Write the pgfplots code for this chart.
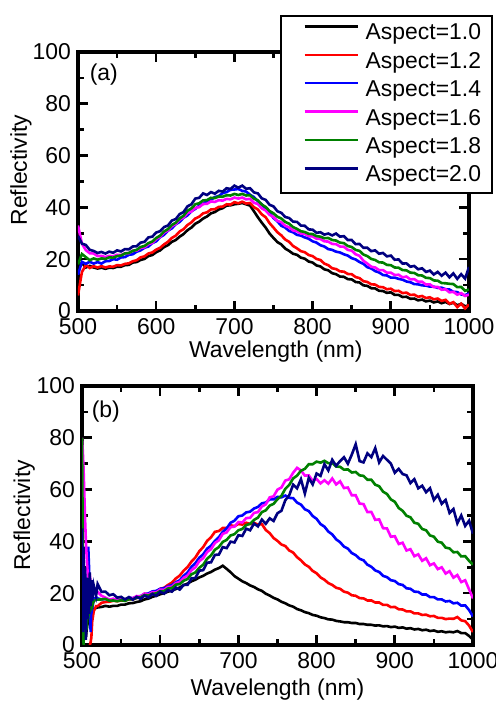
\documentclass[border=0pt]{standalone}
\usepackage{fontspec}
\setmainfont{Liberation Sans}
\usepackage{pgfplots}
\usepackage{pgfplotstable}
\pgfplotsset{compat=1.18}

\definecolor{cnavy}{RGB}{0,0,128}
\definecolor{cgreen}{RGB}{0,128,0}
\definecolor{cmag}{RGB}{255,0,255}
\definecolor{cred}{RGB}{255,0,0}
\definecolor{cblue}{RGB}{0,0,255}

% panel (a): aspect 1.0 1.2 1.4 1.6 1.8 2.0
\pgfplotstableread{
wl k r b m g n
500 17.5 6 14 33 18 29
505 18.5 15 19 26 22 26
510 16.8 17.8 18.2 23.5 20.8 25.5
515 17.4 16.6 19 22.3 19.6 23.6
520 16.8 17.3 18.3 22.2 20.3 23.2
525 16.4 16.8 18.9 21.2 19.8 22.4
530 16.7 17.3 18.3 21.3 20.3 22.8
535 16.3 16.8 19.2 20.8 20.1 22.2
540 16.7 17.2 19.3 21.3 20.7 22.9
545 16.6 17.1 20 21.1 20.6 22.5
550 17.1 17.7 19.8 21.7 21.2 23.4
555 17.1 17.6 20.7 21.6 21.4 23
560 17.7 18.2 20.8 22.3 22.2 23.9
565 17.8 18.4 21.7 22.3 22.4 23.8
570 18.7 19.2 21.9 23.3 23.2 24.9
575 18.9 19.6 22.9 23.3 23.6 25
580 19.7 20.7 23.4 24.3 24.7 26.4
585 20.1 21.1 24.4 24.6 25.1 26.7
590 21.2 22.2 24.9 25.8 26.2 28.4
595 21.6 22.6 26.2 26.3 26.8 28.7
600 22.7 23.7 26.9 27.8 28.2 30.3
605 23.4 24.4 28.5 28.6 29.1 30.8
610 24.7 25.7 29.4 30.3 30.7 32.4
615 25.4 26.7 31 31.1 31.6 33
620 26.7 28.2 31.9 32.8 33.2 34.9
625 27.4 29.1 33.5 33.6 34.1 35.5
630 28.7 30.7 34.4 35.3 35.7 37.4
635 29.7 31.6 36 36.1 36.8 38.2
640 31.2 33.2 36.9 37.8 38.7 40.4
645 32.2 34.2 38.5 38.4 39.6 41.2
650 33.7 35.7 39.4 39.8 41.2 43.4
655 34.5 36.4 40.7 40.1 41.6 43.7
660 35.7 37.7 41.4 41.3 42.7 45.4
665 36.5 38.1 42.5 41.4 42.8 44.8
670 37.7 39.2 42.9 42.3 43.7 45.9
675 38.2 39.3 44 42.1 43.6 45.3
680 39.2 40.2 44.4 42.8 44.2 46.4
685 39.7 40.3 45.5 42.6 44.1 46.1
690 40.7 41.2 45.9 43.3 44.7 47.4
695 40.8 41.1 46.8 43.1 44.6 47.1
700 41.2 42 46.9 43.8 45.2 48.4
705 41.4 41.6 47.1 43.4 44.8 47.6
710 41.7 42.2 46.4 43.8 45.2 48.4
715 41.2 41.5 46.1 43.1 44.6 47.2
720 40.7 41.7 44.9 43.3 44.7 47.4
725 38.5 40.1 44 41.8 43.4 45.8
730 36.2 39.2 42.4 41.3 42.7 45.4
735 34.1 37.3 41.2 39.6 41.1 43.5
740 32.2 36.2 39.4 38.8 40.2 42.9
745 29.9 33.9 38 37.1 38.6 41
750 28.2 32.2 35.9 36.3 37.7 40.4
755 26.6 30.4 34.6 34.8 36.4 38.5
760 25.7 29.2 32.9 34.3 35.7 37.9
765 24.1 27.6 32.2 32.9 34.4 36.3
770 23.2 26.7 30.9 32.3 33.7 35.9
775 22.1 25.1 30.4 31.1 32.4 34.5
780 21.7 24.2 29.4 30.8 31.7 34.4
785 20.6 23.1 29.1 29.9 30.8 33
790 20.2 22.7 28.4 29.8 30.5 32.9
795 19.1 21.6 27.9 28.9 29.8 31.5
800 18.7 21.2 26.9 28.8 29.7 31.4
805 17.6 20.1 26.4 27.9 28.9 30.2
810 17.2 19.7 25.4 27.8 28.7 30.4
815 16.1 18.3 24.9 26.9 28.1 29.5
820 15.7 17.7 23.9 26.8 28.2 29.9
825 14.6 16.5 23.6 25.9 27.4 29.2
830 14.2 16.2 22.9 25.8 27.2 29.9
835 13.3 15.3 22.6 24.9 26.4 28.7
840 13.2 15.2 21.9 24.8 26.2 28.9
845 12.3 14.3 21.4 23.6 25.1 27.4
850 12.2 14.2 20.4 23.3 24.7 27.4
855 11.2 13.1 19.9 21.9 23.6 25.8
860 11 12.7 18.9 21.3 23.2 25.9
865 9.9 11.5 18.2 19.4 21.8 24.4
870 9.7 11.2 16.9 18.3 21.2 24.4
875 8.8 10.3 16.4 17.1 20.1 23.1
880 8.7 10.2 15.4 16.8 19.7 23.4
885 7.8 9.3 14.9 15.8 18.8 22.1
890 7.7 9.2 13.9 15.8 18.7 22.4
895 7 8.4 13.7 14.8 17.8 21.1
900 7.2 8.6 12.9 14.8 17.7 21.4
905 6.2 7.7 12.9 13.9 16.8 19.8
910 6.2 7.8 12.4 14 16.7 19.9
915 5.4 6.9 12.1 13 15.8 18.3
920 5.5 7.1 11.4 13.3 15.7 18.4
925 4.7 6.2 11.1 12.2 14.8 17.1
930 4.8 6.3 10.4 12.3 14.7 17.4
935 4.1 5.5 10.3 11.3 13.8 16.1
940 4.4 5.8 9.9 11.3 13.7 16.5
945 3.7 5 9.8 10.2 12.8 15.1
950 4 5.3 9.4 10.3 12.7 15.6
955 3.3 4.5 9.4 9.2 11.8 14.1
960 3.7 4.8 8.9 9.3 11.7 15.1
965 3 3.9 9 8.2 10.8 13.6
970 3.5 4.3 8.4 8.4 10.7 14.8
975 2.7 2.8 8.3 7.2 10.5 13
980 3.2 3.4 7.4 7.4 10.4 14.5
985 2.2 1.5 7.3 6.3 9.2 12.4
990 2.8 2.8 6.4 6.9 9.3 14.2
995 1.8 1 6.1 5.8 7.8 12.5
1000 2.2 2.5 6.8 6.3 8.3 17
}\taba

% panel (b)
\pgfplotstableread{
wl k r b m g n
500 nan nan 20 80 80 45
501 nan nan 5 75 40 5
502 nan nan 15 68 0 38
503 nan nan 2 58 10 8
504 nan nan 18 48 3 30
505 3 nan 8 40 12 2
506 6 nan 25 34 6 26
507 8 nan 10 29 14 10
508 11 nan 38 25 10 24
509 12 nan 30 23 15 12
510 13 0 20 22 14 28
511 12.5 1 5 24 16 15
512 13.5 3 15 21 17 25
513 13 9 14 23 15 17
515 14 13 17.5 22 17 23
518 14.3 15 18.5 21 17.5 19
520 14.5 15 18 20.5 17.5 23.5
525 14.7 16.3 17.6 19 17.6 20.5
530 15.1 16.6 17.8 18.3 17.8 20.6
535 14.8 16.7 17.3 17.5 17.1 19.2
540 15.1 17.1 17.7 17.9 17.2 19.6
545 15.1 16.9 17.3 17.2 16.9 18.3
550 15.6 17.2 17.7 17.9 17.3 18.6
555 15.6 17.2 17.6 17.5 17 17.6
560 16.1 17.6 18.2 18.3 17.7 18.5
565 16.2 17.6 18.1 18 17.6 17.5
570 16.6 18.2 18.7 18.9 18.2 18.6
575 16.9 18.4 18.9 18.7 18.4 17.8
580 17.6 19.2 19.7 19.9 19.3 19.1
585 17.9 19.4 19.9 19.5 19.1 18.3
590 18.6 20.2 20.7 20.4 19.8 19.7
595 19 20.6 20.9 20.3 19.9 19
600 19.6 21.7 21.7 21.4 20.8 20.6
605 20 22.1 21.9 21.3 20.8 19.8
610 20.6 23.2 22.7 22.4 21.8 21.2
615 21 24.1 23.1 22.5 22 20.6
620 21.6 25.7 24.2 23.9 23.3 22.2
625 22.2 26.8 25 24.3 23.5 21.4
630 23.1 28.7 26.7 25.9 24.8 23.2
635 23.7 30.1 28 26.8 25.5 23.2
640 24.6 32.2 30.2 28.9 27.3 25.7
645 25.2 33.8 31.6 30 28 25.9
650 26.1 36.2 33.7 32.4 29.8 28.7
655 26.7 37.8 35 33.5 31 28.9
660 27.6 40.2 37.2 35.9 33.3 31.8
665 28.2 41.6 38.3 37 34.6 31.9
670 29.1 43.7 40.2 39.4 36.8 34.8
675 29.7 44 41.6 40.4 37.8 34.9
680 30.6 45.2 43.7 42.9 39.8 37.8
685 29.4 45.2 45 43.5 40.6 37.4
690 28.1 46.2 47.2 45.5 42.3 39.9
695 26.6 45.9 48 45.7 42.8 39.6
700 25.6 46.7 49.7 47.5 44.3 42.4
705 24.6 46.5 50 47.3 44.8 42.1
710 23.9 47.2 51.2 49 46.3 44.9
715 23 46.7 51.5 49.1 46.8 44.3
720 22.4 47.2 52.7 51 48.3 46.9
725 21.5 46.4 53.3 51.3 49.2 45.8
730 20.9 46.7 54.7 53.5 51.3 48.4
735 19.8 44.4 55 54.3 52 46.8
740 19.1 43.2 56.2 57 53.8 48.9
745 18.2 41.3 56.2 57.4 54.5 47.9
750 17.6 40.2 57.2 60 56.3 50.9
755 16.7 38.8 57 60.8 57.6 51.8
760 16.1 38.2 57.7 63.5 60.3 55.9
765 15.3 36.5 56.8 64 61.8 57.8
770 14.8 35.7 56.7 66.5 64.3 61.9
775 13.9 33.9 55 68.4 65.4 60.5
780 13.4 32.7 54.2 67.4 67.3 64
785 12.7 31.1 52.4 65.4 68 58.5
790 12.3 30.2 51.7 65.5 69.8 64.5
795 11.6 28.6 49.8 63.4 69.8 62
800 11.3 27.7 48.7 64.1 70.8 66.2
805 10.7 26.1 46.7 62.4 70.4 65.3
810 10.4 25.2 45.7 63.6 71.1 69.8
815 9.9 23.9 43.8 62.3 70.2 67.4
820 9.8 23.2 42.7 64.3 70.3 71.5
825 9.3 22.1 40.8 62 68.9 69.2
830 9.1 21.7 39.7 63.2 68.8 71
835 8.8 20.6 38 60.6 67.7 72.5
840 8.8 20.2 37.2 60.8 67.8 70
845 8.5 19.2 35.5 57.8 66.6 73.5
850 8.5 19 34.7 57.8 66.8 77.5
855 8.1 18.1 33.3 54.6 65.5 71
860 8.1 18 32.7 54.4 65.3 70.5
865 7.8 17.2 31 51.3 63.8 74
870 7.8 17.2 30.2 51.4 63.8 72.5
875 7.5 16.4 28.8 48.3 61.9 76
880 7.6 16.4 28.2 48.5 61.3 70.5
885 7.2 15.5 26.7 45.1 59.2 73
890 7.3 15.5 26.2 45 58.3 71.5
895 6.9 14.6 25 41.8 56.2 70
900 7.1 14.7 24.7 42 55.3 66.5
905 6.6 13.8 23.5 39 52.9 68
910 6.8 13.7 23.2 39.5 51.8 66
915 6.3 13 21.9 36.5 49.9 65.5
920 6.5 13 21.7 37 49.3 62.5
925 6 12.2 20.6 34.3 47.2 64
930 6.2 12.2 20.5 35 46.8 60.5
935 5.7 11.6 19.5 32.5 44.8 61.5
940 5.9 11.7 19.5 33.5 44.3 59
945 5.4 11.1 18.5 30.8 42.3 60.5
950 5.6 11.2 18.5 31.5 41.8 56
955 5.1 10.5 17.6 29.3 39.9 58
960 5.3 10.5 17.6 30 39.5 54.5
965 4.9 10 16.8 27.6 37.6 56
970 5.1 10.2 17 28.5 37.3 51
975 4.9 10.1 16.1 26 35.8 52.5
980 5.4 10.8 16.3 27 35.9 47
985 4.6 9.5 15.2 24.3 34.2 50
990 4.6 9.2 15.3 25 34.3 46
995 3.5 7.5 13.5 21.5 32.5 48
1000 2 5 11 18 31 43
}\tabb

\pgfplotsset{
  refl/.style={
    scale only axis, width=195.5bp, height=129.5bp,
    anchor=south west,
    xmin=500, xmax=1000, ymin=0, ymax=100,
    xtick={500,600,...,1000}, ytick={0,20,...,100},
    minor x tick num=1, minor y tick num=1,
    major tick length=5bp, minor tick length=3bp,
    tick style={black, line width=1.3bp},
    axis line style={black, line width=1.7bp},
    tick label style={font=\fontsize{11.5}{13}\selectfont},
    label style={font=\fontsize{11.5}{13}\selectfont},
    /pgf/number format/assume math mode=true,
    /pgf/number format/1000 sep={},
    xlabel={Wavelength (nm)}, ylabel={Reflectivity},
    every axis plot/.append style={line width=1.3bp},
  },
}

\begin{document}
\begin{tikzpicture}
\useasboundingbox (0,0) rectangle (248bp,351.5bp);

\begin{axis}[refl, at={(39bp,196bp)},
    xlabel style={at={(axis description cs:0.506,-0.158)}, anchor=center},
    ylabel style={at={(axis description cs:-0.146,0.544)}, anchor=center},
    legend cell align=left,
    legend style={at={(1.0614,1.1429)}, anchor=north east, draw=black,
      line width=1bp, inner xsep=5.5bp, inner ysep=3bp, row sep=2.7bp,
      column sep=3.5bp, font=\fontsize{11.5}{13}\selectfont,
      nodes={inner sep=0pt, text height=9bp, text depth=2.5bp}},
    legend image code/.code={\path (0bp,0bp); \draw[#1,line width=1.2bp] (5.5bp,3.5bp) -- (32bp,3.5bp);},
]
\addplot[black] table[x=wl, y=k] {\taba};
\addlegendentry{Aspect=1.0}
\addplot[cred] table[x=wl, y=r] {\taba};
\addlegendentry{Aspect=1.2}
\addplot[cblue] table[x=wl, y=b] {\taba};
\addlegendentry{Aspect=1.4}
\addplot[cmag] table[x=wl, y=m] {\taba};
\addlegendentry{Aspect=1.6}
\addplot[cgreen] table[x=wl, y=g] {\taba};
\addlegendentry{Aspect=1.8}
\addplot[cnavy] table[x=wl, y=n] {\taba};
\addlegendentry{Aspect=2.0}
\node[font=\fontsize{11.5}{13}\selectfont] at (rel axis cs:0.066,0.911) {(a)};
\end{axis}

\begin{axis}[refl, at={(41bp,29bp)},
    xlabel style={at={(axis description cs:0.5,-0.174)}, anchor=center},
    ylabel style={at={(axis description cs:-0.148,0.5)}, anchor=center},
]
\addplot[black] table[x=wl, y=k] {\tabb};
\addplot[cred] table[x=wl, y=r] {\tabb};
\addplot[cblue] table[x=wl, y=b] {\tabb};
\addplot[cmag] table[x=wl, y=m] {\tabb};
\addplot[cgreen] table[x=wl, y=g] {\tabb};
\addplot[cnavy] table[x=wl, y=n] {\tabb};
\node[font=\fontsize{11.5}{13}\selectfont] at (rel axis cs:0.061,0.903) {(b)};
\end{axis}
\end{tikzpicture}
\end{document}
